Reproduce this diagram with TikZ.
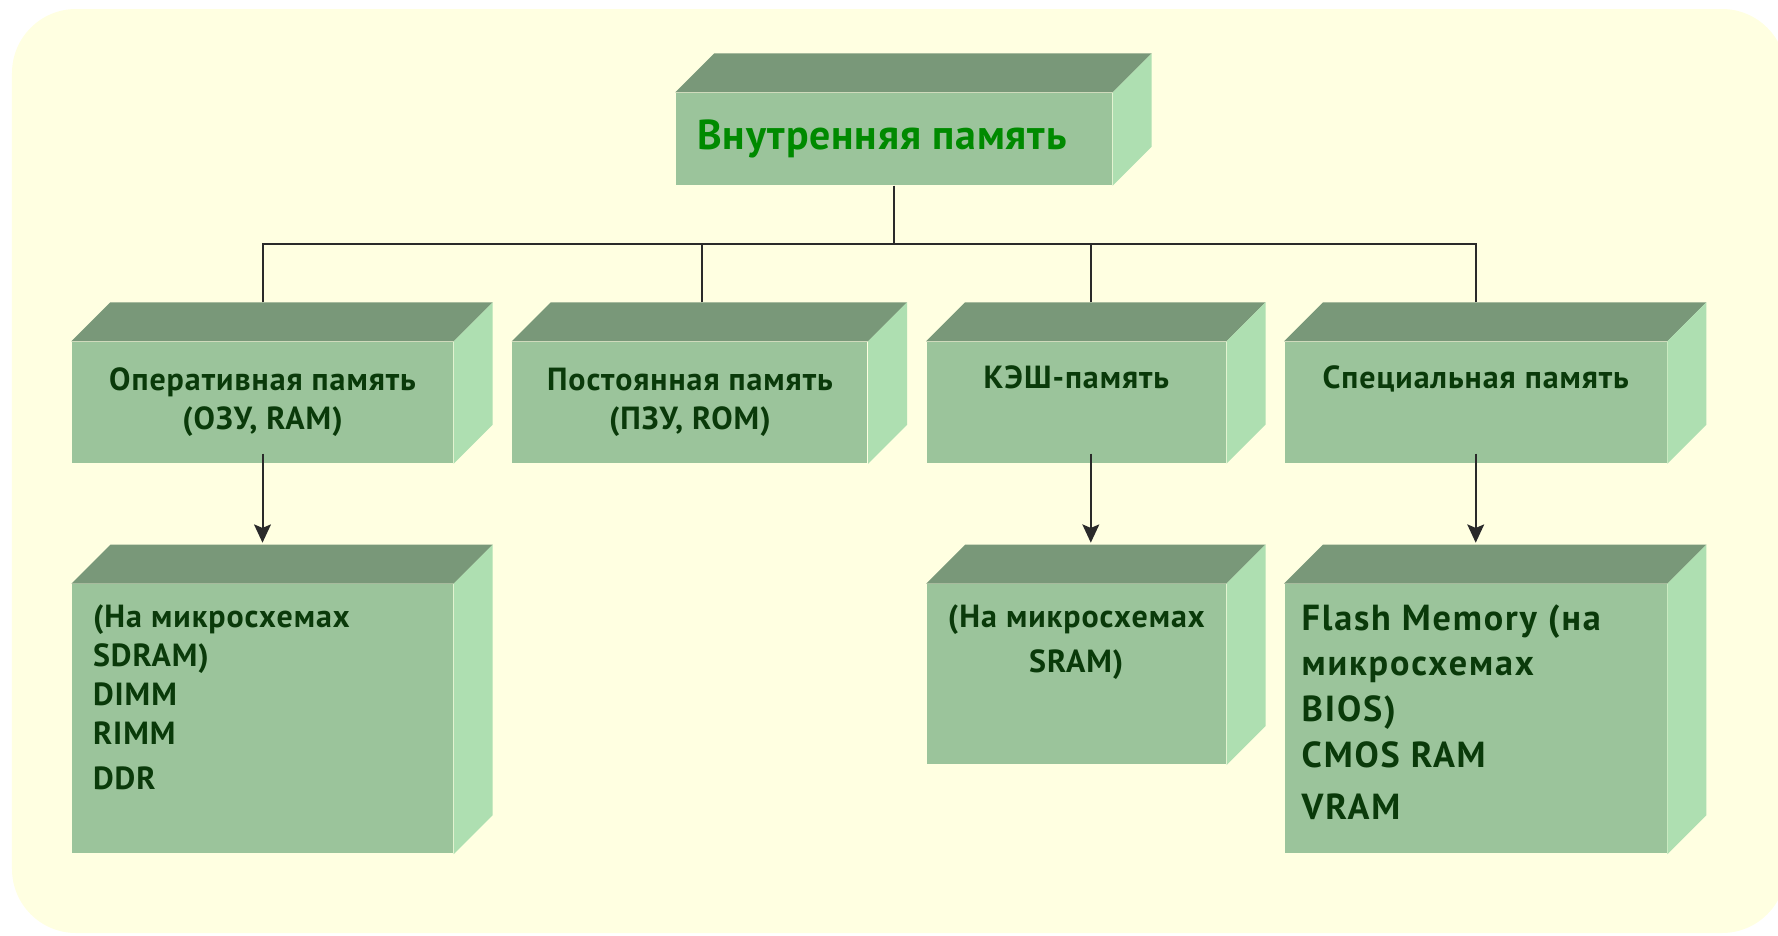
\documentclass[tikz,border=0pt]{standalone}
\usepackage{fontspec}
\setmainfont{PT Sans}
\newfontfamily\rowfont[LetterSpace=3]{PT Sans}
\newfontfamily\flashfont[LetterSpace=5]{PT Sans}
\newfontfamily\titlefont[LetterSpace=2]{PT Sans}
\usetikzlibrary{positioning,arrows.meta}
\definecolor{paper}{HTML}{FFFFE1}
\definecolor{frontgreen}{HTML}{9BC49B}
\definecolor{topgreen}{HTML}{799879}
\definecolor{sidegreen}{HTML}{AEDFB1}
\definecolor{titlegreen}{HTML}{008A00}
\definecolor{textgreen}{HTML}{0A3A0A}
\definecolor{wire}{HTML}{2A2A2A}
\newcommand{\blockfaces}[1]{%
	\fill[topgreen] (#1.north west) -- ++(0.39,0.39) -- ([shift={(0.39,0.39)}]#1.north east) -- (#1.north east) -- cycle;
	\fill[sidegreen] (#1.north east) -- ++(0.39,0.39) -- ([shift={(0.39,0.39)}]#1.south east) -- (#1.south east) -- cycle;}

\begin{document}
\begin{tikzpicture}[
	front/.style={rectangle,fill=frontgreen,inner sep=0pt,align=center,text=textgreen,
		font=\rowfont\bfseries\fontsize{9.1}{11.1}\selectfont},
	listtext/.style={inner sep=0pt,text=textgreen,font=\rowfont\bfseries\fontsize{9.1}{11.1}\selectfont},
	conn/.style={draw=wire,line width=0.57pt},
	>={Stealth[length=5.2pt,width=4.8pt,inset=1pt]}]
	\useasboundingbox (0,0) rectangle (17.78,-9.35);
	\fill[paper,rounded corners=0.64cm] (0.12,-0.09) rectangle (17.86,-9.33);

	\node [front,minimum width=4.36cm,minimum height=0.92cm,text=titlegreen,
		font=\titlefont\bfseries\fontsize{11.9}{13}\selectfont]	(top)	at (8.94,-1.39)	{\hspace*{-0.24cm}Внутренняя память};
	\node [front,minimum width=3.81cm,minimum height=1.21cm]	(ram)	at (2.625,-4.025)	{Оперативная память\\(ОЗУ, RAM)};
	\node [front,minimum width=3.55cm,minimum height=1.21cm]	(rom)	[right=0.58cm of ram]	{Постоянная память\\(ПЗУ, ROM)};
	\node [front,minimum width=2.99cm,minimum height=1.21cm]	(cache)	[right=0.58cm of rom]	{КЭШ-память\\\strut};
	\node [front,minimum width=3.82cm,minimum height=1.21cm]	(spec)	[right=0.575cm of cache]	{Специальная память\\\strut};
	\node [front,minimum width=3.81cm,minimum height=2.69cm]	(ramlist)	[below=1.2cm of ram]	{};
	\node [front,minimum width=2.99cm,minimum height=1.80cm]	(cachelist)	[below=1.2cm of cache]	{};
	\node [front,minimum width=3.82cm,minimum height=2.69cm]	(speclist)	[below=1.2cm of spec]	{};
	\foreach \b in {top,ram,rom,cache,spec,ramlist,cachelist,speclist}
		\blockfaces{\b};

	\node [listtext,align=left]	(ramtxt)	[below right=0.2cm and 0.21cm of ramlist.north west]
		{(На микросхемах\\SDRAM)\\DIMM\\RIMM\\[1.7pt]DDR};
	\node [listtext,align=center,font=\rowfont\bfseries\fontsize{9.1}{12.8}\selectfont]	(cachetxt)	[below=0.2cm of cachelist.north]
		{(На микросхемах\\SRAM)};
	\node [listtext,align=left,font=\flashfont\bfseries\fontsize{10.3}{13}\selectfont]	(spectxt)	[below right=0.2cm and 0.17cm of speclist.north west]
		{Flash Memory (на\\микросхемах\\BIOS)\\CMOS RAM\\[2pt]VRAM};

	\draw[conn] (top.south) -- ++(0,-0.58) coordinate (bus);
	\foreach \b/\dx in {ram/0,rom/0.12,cache/0.145,spec/0}
		\draw[conn] ([xshift=\dx cm,yshift=0.39cm]\b.north) |- (bus);
	\foreach \a/\b/\dx in {ram/ramlist/0,cache/cachelist/0.145,spec/speclist/0}
		\draw[conn,->] ([xshift=\dx cm,yshift=0.1cm]\a.south) -- ([xshift=\dx cm,yshift=0.41cm]\b.north);
\end{tikzpicture}
\end{document}
